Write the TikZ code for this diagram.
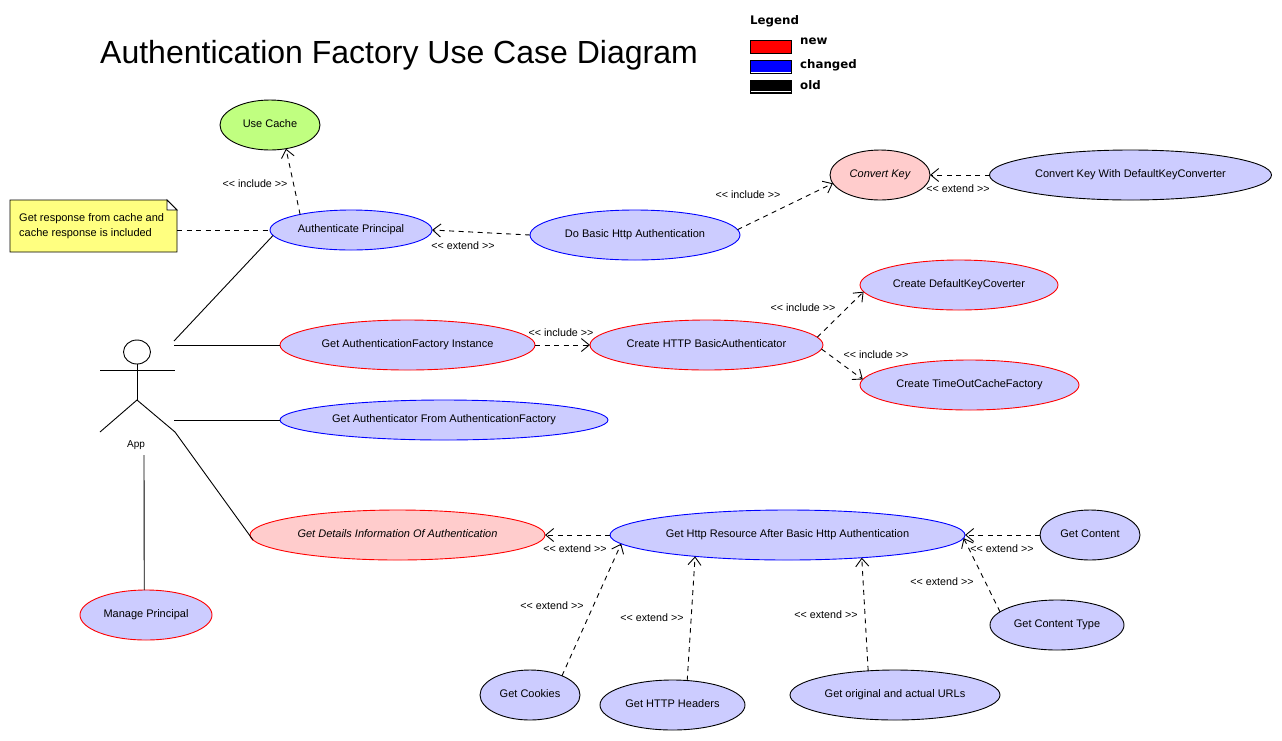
\documentclass[tikz,border=0pt]{standalone}
\usepackage{fontspec}
\setmainfont{Liberation Sans}
\newfontfamily\legendfont{DejaVu Sans}
\usetikzlibrary{shapes.geometric,arrows.meta}
\definecolor{ucblue}{HTML}{CCCCFF}
\definecolor{ucpink}{HTML}{FFCCCC}
\definecolor{ucgreen}{HTML}{C0FF80}
\definecolor{notey}{HTML}{FFFF80}
\tikzset{
  uc/.style={ellipse,draw,line width=0.9pt,inner sep=0pt,outer sep=0pt,font=\fontsize{11}{13}\selectfont,text height=7pt,text depth=2pt,align=center},
  ucb/.style={uc,draw=blue,fill=ucblue},
  ucr/.style={uc,draw=red,fill=ucblue},
  uck/.style={uc,draw=black,fill=ucblue},
  ucp/.style={uc,draw=red,fill=ucpink,font=\fontsize{11}{13}\selectfont\itshape},
  assoc/.style={draw,line width=0.9pt},
  dep/.style={draw,line width=0.9pt,dash pattern=on 5pt off 4.5pt,-{Straight Barb[length=8pt,width=13pt,line width=0.9pt]}},
  tag/.style={font=\fontsize{10.7}{12}\selectfont,inner sep=0pt},
  leg/.style={font=\legendfont\bfseries\fontsize{11.8}{13}\selectfont,inner sep=0pt,anchor=base west},
  swatch/.style={draw,line width=0.9pt,minimum width=41pt,inner sep=0pt,outer sep=0pt,anchor=north west}
}
\begin{document}
\begin{tikzpicture}[x=1pt,y=-1pt]
\useasboundingbox (0,0) rectangle (1282,740);
\fill[white] (0,0) rectangle (1282,740);
% title
\node[anchor=base west,inner sep=0pt,font=\fontsize{32}{36}\selectfont] (title) at (100,63) {Authentication Factory Use Case Diagram};
% legend
\node[leg] (legend) at (750,24) {Legend};
\node[leg] (lnew) at (800,44) {new};
\node[leg] (lchanged) at (800,68) {changed};
\node[leg] (lold) at (800,89) {old};
\node[swatch,fill=red,minimum height=13pt] (sred) at (750.5,40.5) {};
\node[swatch,fill=blue,minimum height=13pt] (sblue) at (750.5,60.5) {};
\node[swatch,fill=black,minimum height=12.5pt] (sblack) at (750.5,80.5) {};
\draw[white,line width=0.9pt] ([xshift=0.5pt,yshift=1.3pt]sblue.south west) -- ([xshift=-0.5pt,yshift=1.3pt]sblue.south east);
\draw[white,line width=0.9pt] ([xshift=0.5pt,yshift=1.3pt]sblack.south west) -- ([xshift=-0.5pt,yshift=1.3pt]sblack.south east);
% use cases
\node[uck,fill=ucgreen,minimum width=100pt,minimum height=50pt] (cache) at (270,125) {Use Cache};
\node[ucb,minimum width=162pt,minimum height=40pt] (auth) at (351,230) {Authenticate Principal};
\node[ucb,minimum width=210pt,minimum height=50pt] (basic) at (635,235) {Do Basic Http Authentication};
\node[uck,fill=ucpink,font=\fontsize{11}{13}\selectfont\itshape,minimum width=100pt,minimum height=50pt] (ckey) at (880,175) {Convert Key};
\node[uck,minimum width=282pt,minimum height=50pt] (ckeyd) at (1130.5,175) {Convert Key With DefaultKeyConverter};
\node[ucr,minimum width=255pt,minimum height=50pt] (inst) at (407.5,345) {Get AuthenticationFactory Instance};
\node[ucr,minimum width=233pt,minimum height=50pt] (http) at (706.5,345) {Create HTTP BasicAuthenticator};
\node[ucr,minimum width=198pt,minimum height=50pt] (dkc) at (959,285) {Create DefaultKeyCoverter};
\node[ucr,minimum width=219pt,minimum height=50pt] (toc) at (969.5,385) {Create TimeOutCacheFactory};
\node[ucb,minimum width=328pt,minimum height=40pt] (getauth) at (444,420) {Get Authenticator From AuthenticationFactory};
\node[ucp,minimum width=295pt,minimum height=50pt] (details) at (397.5,535) {Get Details Information Of Authentication};
\node[ucb,minimum width=355pt,minimum height=50pt] (res) at (787.5,535) {Get Http Resource After Basic Http Authentication};
\node[uck,minimum width=100pt,minimum height=50pt] (content) at (1090,535) {Get Content};
\node[uck,minimum width=134pt,minimum height=50pt] (ctype) at (1057,625) {Get Content Type};
\node[uck,minimum width=100pt,minimum height=50pt] (cookies) at (530,695) {Get Cookies};
\node[uck,minimum width=145pt,minimum height=50pt] (headers) at (672.5,705) {Get HTTP Headers};
\node[uck,minimum width=210pt,minimum height=50pt] (urls) at (895,695) {Get original and actual URLs};
\node[ucr,minimum width=132pt,minimum height=50pt] (manage) at (146,615) {Manage Principal};
% note
\node[minimum width=167pt,minimum height=52pt,inner sep=0pt,outer sep=0pt] (note) at (93.5,226) {};
\draw[line width=0.9pt,fill=notey] (note.north west) -- ([xshift=-10pt]note.north east) -- ([yshift=-10pt]note.north east) -- (note.south east) -- (note.south west) -- cycle;
\draw[line width=0.9pt,fill=white] ([xshift=-10pt]note.north east) -- ([xshift=-10pt,yshift=-10pt]note.north east) -- ([yshift=-10pt]note.north east) -- cycle;
\node[anchor=west,inner sep=0pt,align=left,font=\fontsize{11}{15}\selectfont] (notetext) at (19,226) {Get response from cache and\\cache response is included};
% actor
\node[ellipse,draw,line width=0.9pt,minimum width=27pt,minimum height=24pt,inner sep=0pt,outer sep=0pt] (head) at (137,352) {};
\coordinate (hip) at (137,400);
\coordinate (larm) at (100,370);
\coordinate (rarm) at (175,370);
\coordinate (lfoot) at (100,432);
\coordinate (rfoot) at (175,432);
\draw[assoc] (head.south) -- (hip);
\draw[assoc] (larm) -- (rarm);
\draw[assoc] (lfoot) -- (hip) -- (rfoot);
\node[font=\fontsize{10}{12}\selectfont,inner sep=0pt] (app) at (136,445) {App};
% actor associations
\coordinate (a1) at (174,341);
\coordinate (a2) at (174,345);
\coordinate (a3) at (174,420);
\coordinate (a5) at (144,455);
\draw[assoc] (a1) -- (auth.184);
\draw[assoc] (a2) -- (inst.west);
\draw[assoc] (a3) -- (getauth.west);
\draw[assoc] (rfoot) -- (details.182);
\draw[assoc] (a5) -- (manage.94);
% dependencies
\draw[dep] (auth.163) -- (cache.-56);
\draw[draw,line width=0.9pt,dash pattern=on 5pt off 4.5pt] ([yshift=-4pt]note.east) -- (auth.west);
\draw[dep] (basic.west) -- (auth.east);
\draw[dep] (basic.3) -- (ckey.190);
\draw[dep] (ckeyd.west) -- (ckey.east);
\draw[dep] (inst.east) -- (http.west);
\draw[dep] (http.4) -- (dkc.184);
\draw[dep] (http.-2.5) -- (toc.177.5);
\draw[dep] (res.west) -- (details.east);
\draw[dep] (content.west) -- (res.east);
\draw[dep] (ctype.167) -- (res.-1.75);
\draw[dep] (cookies.31) -- (res.183);
\draw[dep] (headers.59) -- (res.193.2);
\draw[dep] (urls.138) -- (res.-17.5);
% labels
\node[tag] (t1) at (255,183.5) {<{}< include >{}>};
\node[tag] (t2) at (748,194.5) {<{}< include >{}>};
\node[tag] (t3) at (463,245.5) {<{}< extend >{}>};
\node[tag] (t4) at (958,188.5) {<{}< extend >{}>};
\node[tag] (t5) at (561,332.5) {<{}< include >{}>};
\node[tag] (t6) at (803,307.5) {<{}< include >{}>};
\node[tag] (t7) at (876,354.5) {<{}< include >{}>};
\node[tag] (t8) at (575,548.5) {<{}< extend >{}>};
\node[tag] (t9) at (1002,548.5) {<{}< extend >{}>};
\node[tag] (t10) at (942,581.5) {<{}< extend >{}>};
\node[tag] (t11) at (552,605.5) {<{}< extend >{}>};
\node[tag] (t12) at (652,617.5) {<{}< extend >{}>};
\node[tag] (t13) at (826,614.5) {<{}< extend >{}>};
\end{tikzpicture}
\end{document}
